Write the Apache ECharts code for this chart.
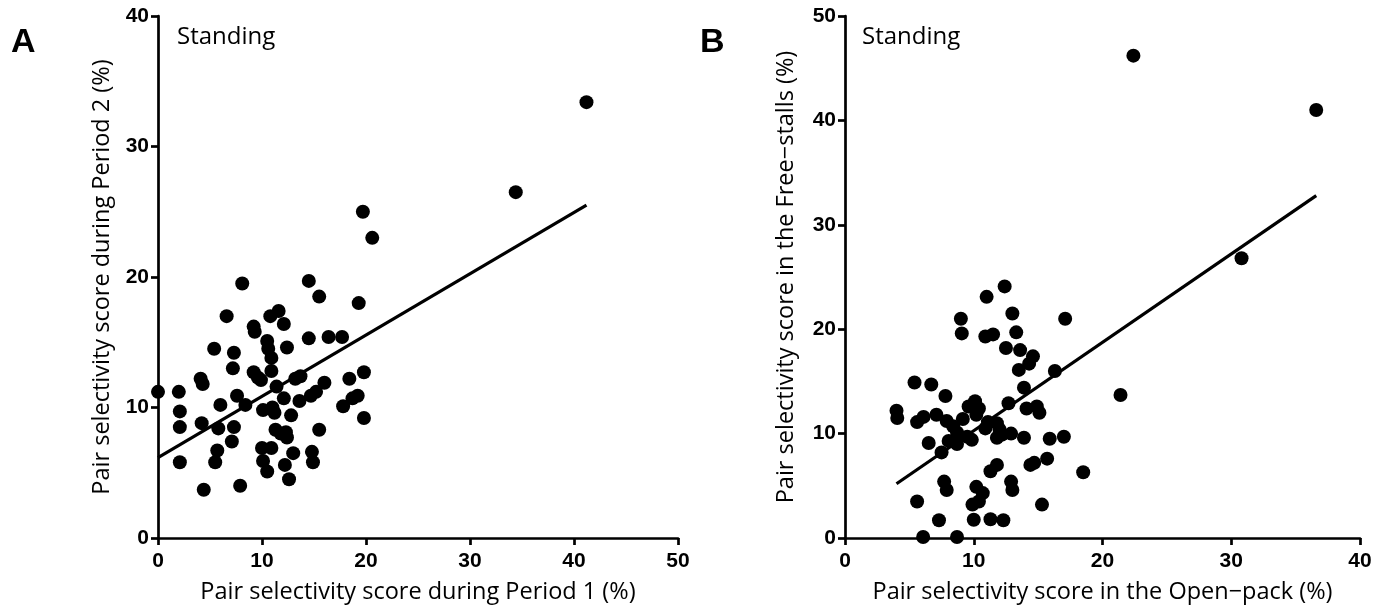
<!DOCTYPE html>
<html>
<head>
<meta charset="utf-8">
<script src="https://cdn.jsdelivr.net/npm/echarts@6/dist/echarts.min.js"></script>
<style>
html,body{margin:0;padding:0;background:#fff;}
#c{width:1392px;height:609px;}
</style>
</head>
<body>
<div id="c"></div>
<script>
// Panel A: Period 1 (x) vs Period 2 (y)
const pointsA = [
  [0,11.2],[2.0,11.2],[2.1,9.7],[2.1,8.5],[2.1,5.8],[4.4,3.7],[4.1,12.2],[4.3,11.8],[4.2,8.8],
  [5.4,14.5],[6.0,10.2],[5.8,8.4],[5.7,6.7],[5.5,5.8],[6.6,17.0],[7.3,14.2],[7.2,13.0],[7.6,10.9],
  [7.3,8.5],[7.1,7.4],[7.9,4.0],[8.1,19.5],[8.4,10.2],[9.2,16.2],[9.3,15.8],[9.2,12.7],[9.6,12.3],
  [9.9,12.1],[10.1,9.8],[10.0,6.9],[10.1,5.9],[10.5,5.1],[10.9,6.9],[10.8,17.0],[11.6,17.4],[10.5,15.1],
  [10.6,14.5],[10.9,13.8],[10.9,12.8],[11.4,11.6],[11.0,10.0],[11.2,9.6],[11.3,8.3],[11.8,8.0],[12.3,8.1],
  [12.4,7.7],[12.1,16.4],[12.4,14.6],[12.1,10.7],[12.8,9.4],[13.0,6.5],[12.2,5.6],[12.6,4.5],[13.2,12.2],
  [13.7,12.4],[13.6,10.5],[14.5,15.3],[14.5,19.7],[15.5,18.5],[14.7,10.9],[15.2,11.2],[14.8,6.6],[14.9,5.8],
  [15.5,8.3],[16.0,11.9],[16.4,15.4],[17.7,15.4],[17.8,10.1],[18.4,12.2],[18.7,10.7],[19.2,10.9],[19.3,18.0],
  [19.8,12.7],[19.8,9.2],[19.7,25.0],[20.6,23.0],[34.4,26.5],[41.2,33.4]
];
const fitA = [[0,6.15],[41.2,25.5]];

// Panel B: Open-pack (x) vs Free-stalls (y)
const pointsB = [
  [4.0,12.2],[4.06,11.5],[5.4,14.9],[5.6,11.1],[6.1,11.6],[5.6,3.5],[6.07,0.1],[6.7,14.7],[6.5,9.1],
  [7.1,11.8],[7.8,13.6],[7.9,11.2],[7.5,8.2],[7.3,1.7],[7.7,5.4],[7.9,4.6],[8.05,9.3],[8.4,10.7],
  [8.7,10.1],[8.7,9.0],[9.15,11.4],[9.0,21.0],[9.07,19.6],[8.7,0.1],[9.5,9.7],[9.85,9.4],[9.6,12.6],
  [10.1,13.1],[10.4,12.4],[10.2,11.8],[10.2,4.9],[10.7,4.3],[10.4,3.5],[9.9,3.2],[10.0,1.75],[11.3,1.8],
  [12.3,1.7],[10.9,10.5],[11.1,11.1],[11.8,11.0],[10.9,19.3],[11.5,19.5],[11.0,23.1],[11.3,6.4],[11.8,7.0],
  [12.0,10.4],[12.2,9.9],[11.8,9.6],[12.5,18.2],[12.7,12.9],[12.9,10.0],[12.9,5.4],[13.0,4.6],[13.0,21.5],
  [13.3,19.7],[13.6,18.0],[13.5,16.1],[13.9,14.4],[14.1,12.4],[13.9,9.6],[14.3,16.7],[14.6,17.4],[14.4,7.0],
  [14.7,7.2],[14.9,12.6],[15.1,12.0],[15.3,3.2],[15.7,7.6],[15.9,9.5],[16.3,16.0],[17.0,9.7],[17.1,21.0],
  [18.5,6.3],[21.4,13.7],[12.4,24.1],[22.4,46.2],[36.6,41.0],[30.8,26.8]
];
const fitB = [[4.0,5.2],[36.6,32.8]];

const xTicksA = [0,10,20,30,40,50];
const yTicksA = [0,10,20,30,40];
const xTicksB = [0,10,20,30,40];
const yTicksB = [0,10,20,30,40,50];

const chart = echarts.init(document.getElementById('c'));
const labelFont = {fontFamily:'Liberation Sans, Arial, sans-serif', fontWeight:'bold', fontSize:21, color:'#000'};
const nameFont = {fontFamily:'Open Sans, sans-serif', fontSize:23.5, color:'#000'};

function xAxis(gi, ticks, name){
  return {
    type:'value', gridIndex:gi, min:ticks[0], max:ticks[ticks.length-1], interval:ticks[1]-ticks[0],
    name:name, nameLocation:'middle', nameGap:42, nameTextStyle:nameFont,
    axisLine:{show:true, onZero:false, lineStyle:{color:'#000', width:2.7}},
    axisTick:{show:true, inside:false, length:7, lineStyle:{color:'#000', width:2.7}},
    axisLabel:Object.assign({margin:13}, labelFont),
    splitLine:{show:false}
  };
}
function yAxis(gi, ticks, name, gap){
  return {
    type:'value', gridIndex:gi, min:ticks[0], max:ticks[ticks.length-1], interval:ticks[1]-ticks[0],
    name:name, nameLocation:'middle', nameGap:gap, nameTextStyle:nameFont,
    axisLine:{show:true, onZero:false, lineStyle:{color:'#000', width:2.7}},
    axisTick:{show:true, inside:false, length:7, lineStyle:{color:'#000', width:2.7}},
    axisLabel:Object.assign({margin:9}, labelFont),
    splitLine:{show:false}
  };
}

chart.setOption({
  animation:false,
  backgroundColor:'#fff',
  grid:[
    {left:158, right:714, top:16, bottom:71, containLabel:false},
    {left:845, right:32, top:16, bottom:71, containLabel:false}
  ],
  xAxis:[
    xAxis(0, xTicksA, 'Pair selectivity score during Period 1 (%)'),
    xAxis(1, xTicksB, 'Pair selectivity score in the Open\u2212pack (%)')
  ],
  yAxis:[
    yAxis(0, yTicksA, 'Pair selectivity score during Period 2 (%)', 44),
    yAxis(1, yTicksB, 'Pair selectivity score in the Free\u2212stalls (%)', 47)
  ],
  series:[
    {type:'scatter', xAxisIndex:0, yAxisIndex:0, data:pointsA, symbolSize:14, itemStyle:{color:'#000', opacity:1}},
    {type:'line', xAxisIndex:0, yAxisIndex:0, data:fitA, symbol:'none', lineStyle:{color:'#000', width:3.2}},
    {type:'scatter', xAxisIndex:1, yAxisIndex:1, data:pointsB, symbolSize:14, itemStyle:{color:'#000', opacity:1}},
    {type:'line', xAxisIndex:1, yAxisIndex:1, data:fitB, symbol:'none', lineStyle:{color:'#000', width:3.2}}
  ],
  graphic:[
    {type:'text', left:11, top:26, style:{text:'A', font:'bold 34px "Liberation Sans", Arial, sans-serif', fill:'#000'}},
    {type:'text', left:700, top:26, style:{text:'B', font:'bold 34px "Liberation Sans", Arial, sans-serif', fill:'#000'}},
    {type:'text', left:177, top:25, style:{text:'Standing', font:'24px "Open Sans", sans-serif', fill:'#000'}},
    {type:'text', left:862, top:25, style:{text:'Standing', font:'24px "Open Sans", sans-serif', fill:'#000'}}
  ]
});
</script>
</body>
</html>
